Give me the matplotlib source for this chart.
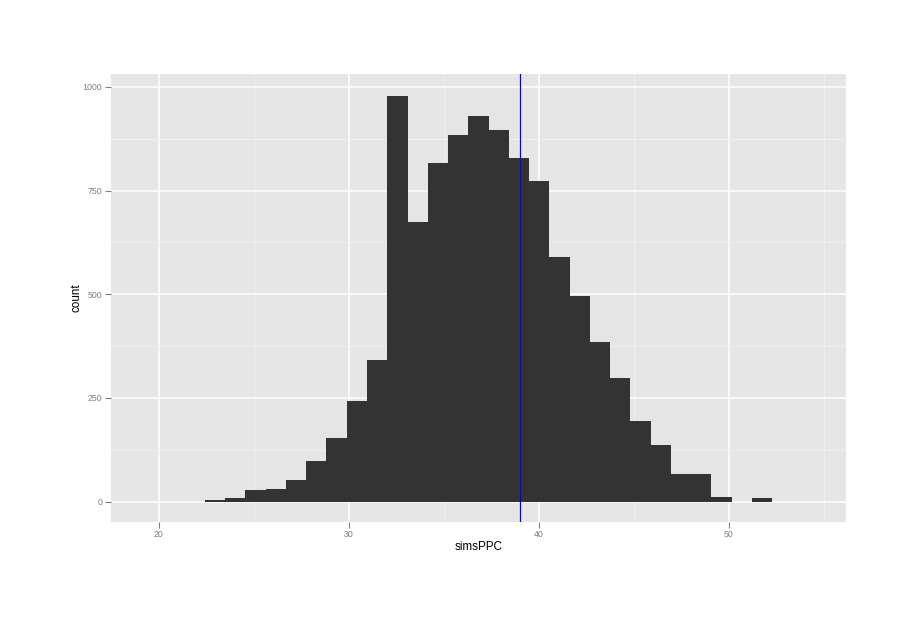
import numpy as np
import matplotlib
matplotlib.use("Agg")
import matplotlib.pyplot as plt
from matplotlib.ticker import FixedLocator

plt.rcParams['font.family'] = ['Liberation Sans', 'DejaVu Sans']

# histogram data
bin_start = 22.42
bin_width = 1.0663
counts = [3, 10, 29, 31, 53, 98, 154, 243, 341, 978, 675, 817, 885, 930,
          897, 829, 772, 591, 495, 385, 298, 195, 137, 67, 67, 12, 0, 10]
vline_x = 39.0
x_ticks = [20, 30, 40, 50]
x_minor = [25, 35, 45, 55]
y_ticks = [0, 250, 500, 750, 1000]
y_minor = [125, 375, 625, 875]
x_label = "simsPPC"
y_label = "count"

fig = plt.figure(figsize=(9.2, 6.2), dpi=100)
ax = fig.add_axes([110.7/920, 1 - 522/620, (846 - 110.7)/920, (522 - 74)/620])
ax.set_facecolor("#E5E5E5")

lefts = bin_start + bin_width * np.arange(len(counts))
ax.bar(lefts, counts, width=bin_width, align='edge', color="#333333",
       edgecolor='none', linewidth=0, zorder=3)
ax.axvline(vline_x, color="#0000FF", linewidth=0.9, zorder=4)

ax.set_xlim(17.46, 56.16)
ax.set_ylim(-49, 1031)

ax.xaxis.set_major_locator(FixedLocator(x_ticks))
ax.xaxis.set_minor_locator(FixedLocator(x_minor))
ax.yaxis.set_major_locator(FixedLocator(y_ticks))
ax.yaxis.set_minor_locator(FixedLocator(y_minor))

ax.grid(which='major', color='white', linewidth=1.1, zorder=1)
ax.grid(which='minor', color='#F2F2F2', linewidth=0.6, zorder=1)
ax.set_axisbelow(True)

for s in ax.spines.values():
    s.set_visible(False)

ax.tick_params(axis='both', which='major', length=4, width=0.8, color='#7F7F7F',
               labelcolor='#7F7F7F', labelsize=6.3, pad=2)
ax.tick_params(axis='both', which='minor', length=0)
ax.set_xticklabels([str(v) for v in x_ticks])
ax.set_yticklabels([str(v) for v in y_ticks])

ax.set_xlabel(x_label, fontsize=8.4, color='black', labelpad=1.5)
ax.set_ylabel(y_label, fontsize=8.4, color='black', labelpad=0.5)

fig.savefig("out.png", dpi=100)
